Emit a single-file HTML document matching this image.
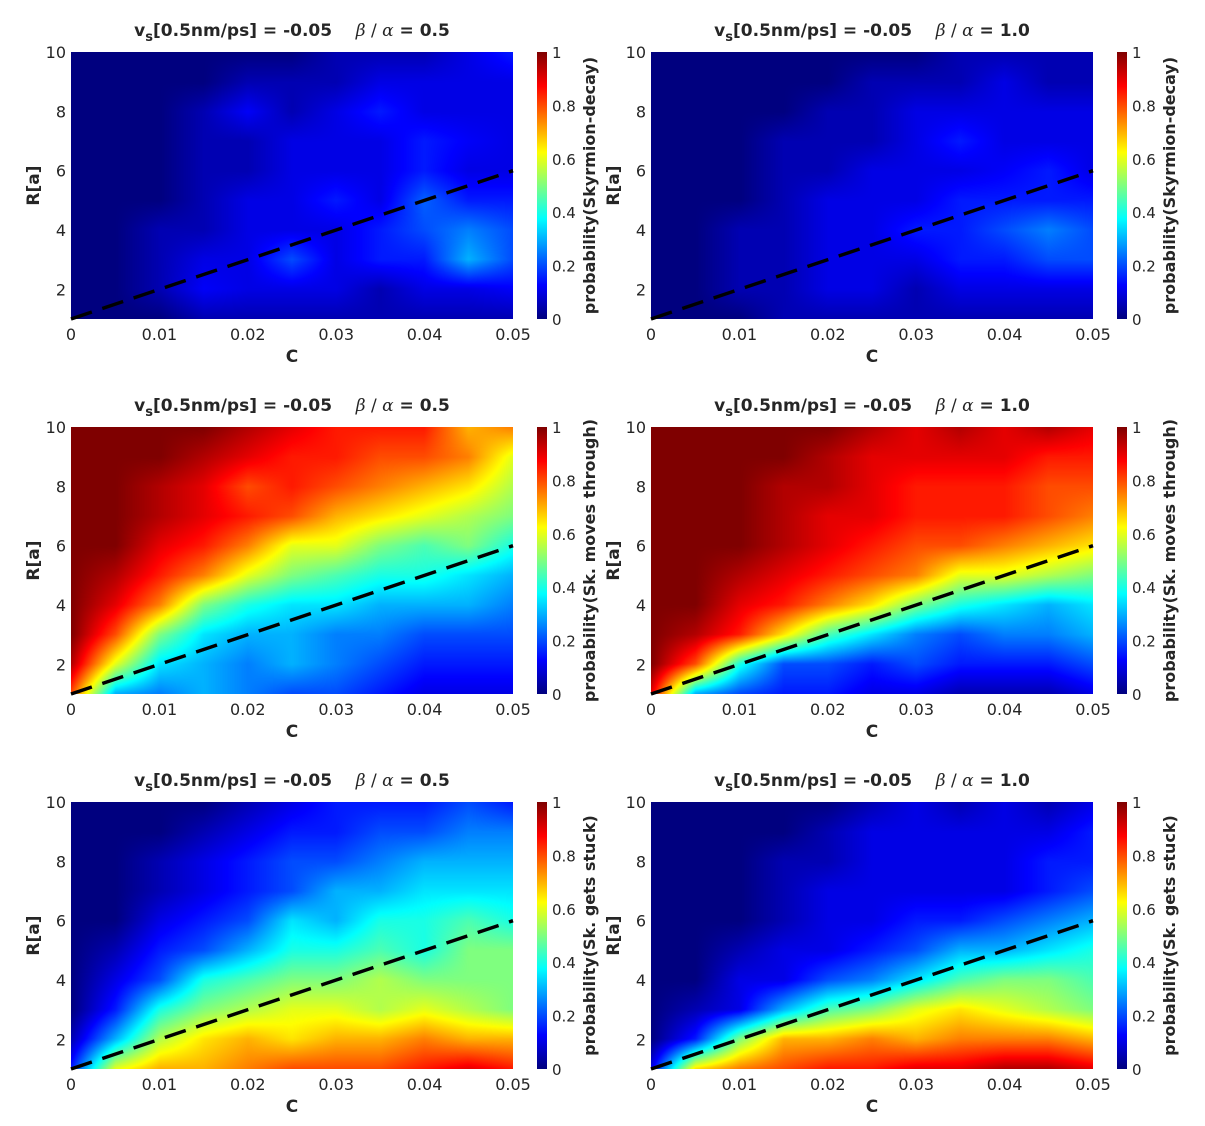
<!DOCTYPE html>
<html><head><meta charset="utf-8"><style>
body{margin:0;background:#fff;width:1205px;height:1126px;position:relative;overflow:hidden;font-family:"DejaVu Sans","Liberation Sans",sans-serif}
canvas{position:absolute}
svg{position:absolute;left:0;top:0}
</style></head><body>
<div id="root"></div>
<svg id="ov" width="1205" height="1126"></svg>
<script>
const cValues=[0,0.005,0.01,0.015,0.02,0.025,0.03,0.035,0.04,0.045,0.05];
const rValues=[10,9,8,7,6,5,4,3,2,1];
const xTicks=[0,0.01,0.02,0.03,0.04,0.05];
const xTickLabels=["0","0.01","0.02","0.03","0.04","0.05"];
const yTicks=[2,4,6,8,10];
const cbTicks=[0,0.2,0.4,0.6,0.8,1];
const cbTickLabels=["0","0.2","0.4","0.6","0.8","1"];
const lineC=[0,0.05];
const lineR=[1,6];
const decay05=[
[0,0,0,0,0,0,.05,.05,.05,.1,.15],
[0,0,0,0,.05,.05,.05,.1,.1,.1,.1],
[0,0,0,.05,.12,.05,.1,.15,.1,.1,.1],
[0,0,0,.05,.05,.1,.1,.1,.15,.12,.1],
[0,0,0,.05,.05,.1,.1,.1,.15,.1,.1],
[0,0,0,.05,.1,.1,.15,.1,.22,.15,.15],
[0,0,.05,.05,.1,.1,.1,.15,.2,.25,.2],
[0,0,.05,.1,.1,.2,.1,.15,.15,.3,.2],
[0,0,.05,.12,.1,.1,.1,.05,.1,.1,.12],
[0,0,0,.05,.05,.05,.05,.05,.05,.05,.05]];
const decay10=[
[0,0,0,0,0,0,0,.05,.05,.05,.05],
[0,0,0,0,0,.05,.05,.05,.1,.05,.05],
[0,0,0,0,.05,.05,.1,.1,.1,.1,.1],
[0,0,0,.05,.05,.05,.1,.15,.1,.1,.1],
[0,0,0,.05,.05,.1,.1,.1,.12,.15,.1],
[0,0,0,.05,.1,.1,.1,.15,.15,.15,.15],
[0,0,.05,.05,.1,.1,.15,.15,.2,.25,.2],
[0,0,.05,.05,.1,.1,.1,.15,.15,.2,.2],
[0,0,.05,.05,.1,.1,.05,.1,.1,.1,.1],
[0,0,0,.05,.05,.05,.05,.05,.05,.05,.05]];
const move05=[
[1,1,1,1,.95,.9,.85,.85,.85,.7,.75],
[1,1,1,.95,.9,.85,.85,.8,.8,.75,.6],
[1,1,.95,.9,.8,.85,.8,.75,.7,.65,.55],
[1,1,.95,.9,.85,.8,.7,.65,.6,.55,.5],
[1,1,.9,.85,.75,.6,.6,.5,.45,.5,.4],
[1,.95,.85,.75,.6,.5,.45,.4,.4,.35,.3],
[1,.9,.75,.5,.4,.35,.35,.3,.3,.3,.25],
[1,.8,.5,.35,.3,.3,.25,.25,.2,.2,.2],
[.95,.6,.35,.3,.25,.3,.25,.2,.15,.15,.15],
[.8,.3,.25,.3,.25,.2,.2,.15,.1,.1,.1]];
const move10=[
[1,1,1,1,1,.95,.9,.95,.9,.95,.9],
[1,1,1,1,.95,.9,.9,.9,.9,.85,.85],
[1,1,1,.95,.95,.9,.85,.85,.85,.8,.8],
[1,1,1,.95,.9,.9,.85,.85,.85,.8,.75],
[1,1,1,.95,.9,.85,.8,.8,.75,.7,.65],
[1,1,.95,.9,.85,.8,.75,.6,.6,.55,.5],
[1,1,.9,.85,.75,.65,.5,.4,.35,.3,.35],
[1,.95,.85,.65,.45,.35,.25,.2,.25,.25,.3],
[1,.8,.4,.2,.2,.15,.2,.15,.15,.15,.2],
[.9,.3,.2,.15,.15,.1,.1,.05,.05,.05,.1]];
const stuck05=[
[0,0,0,0,.05,.1,.15,.15,.15,.2,.15],
[0,0,0,.05,.1,.15,.15,.2,.2,.25,.25],
[0,0,.05,.1,.15,.2,.2,.25,.3,.3,.3],
[0,0,.05,.1,.15,.2,.3,.3,.35,.35,.35],
[0,0,.1,.15,.2,.35,.3,.4,.4,.45,.4],
[0,.05,.15,.2,.3,.4,.4,.45,.4,.5,.5],
[0,.1,.2,.4,.45,.5,.5,.55,.5,.5,.5],
[0,.15,.4,.5,.55,.6,.6,.55,.6,.55,.5],
[.05,.3,.55,.65,.7,.65,.7,.7,.75,.7,.7],
[.15,.6,.7,.7,.75,.8,.8,.8,.85,.9,.85]];
const stuck10=[
[0,0,0,0,0,.05,.1,.05,.1,.05,.1],
[0,0,0,0,.05,.1,.1,.1,.1,.1,.15],
[0,0,0,.05,.05,.1,.1,.1,.1,.15,.15],
[0,0,0,.05,.1,.1,.1,.1,.1,.15,.2],
[0,0,0,.05,.1,.1,.15,.15,.2,.25,.3],
[0,0,.05,.1,.1,.15,.2,.3,.3,.35,.4],
[0,0,.1,.1,.2,.25,.35,.45,.5,.5,.45],
[0,.05,.1,.3,.45,.5,.6,.65,.6,.55,.5],
[0,.15,.5,.7,.7,.75,.7,.75,.75,.75,.7],
[.1,.65,.75,.8,.85,.85,.9,.9,.95,.95,.9]];

const panels=[
 {d:decay05,x:71,y:52,ratio:"0.5",cb:"probability(Skyrmion-decay)",n:"decay-0-5"},
 {d:decay10,x:651,y:52,ratio:"1.0",cb:"probability(Skyrmion-decay)",n:"decay-1-0"},
 {d:move05,x:71,y:427,ratio:"0.5",cb:"probability(Sk. moves through)",n:"moves-0-5"},
 {d:move10,x:651,y:427,ratio:"1.0",cb:"probability(Sk. moves through)",n:"moves-1-0"},
 {d:stuck05,x:71,y:802,ratio:"0.5",cb:"probability(Sk. gets stuck)",n:"stuck-0-5"},
 {d:stuck10,x:651,y:802,ratio:"1.0",cb:"probability(Sk. gets stuck)",n:"stuck-1-0"}];
const W=442,H=267;
function jet(v){v=Math.max(0,Math.min(1,v));
 const f=t=>Math.max(0,Math.min(1,t));
 const r=f(1.5-Math.abs(4*v-3)),g=f(1.5-Math.abs(4*v-2)),b=f(1.5-Math.abs(4*v-1));
 return [r*255|0,g*255|0,b*255|0];}
const NS="http://www.w3.org/2000/svg";
const ov=document.getElementById('ov');
function T(x,y,txt,opt){const t=document.createElementNS(NS,'text');t.setAttribute('x',x);t.setAttribute('y',y);
 t.setAttribute('font-size',opt.fs||15);t.setAttribute('fill','#262626');
 if(opt.bold)t.setAttribute('font-weight','bold');if(opt.anchor)t.setAttribute('text-anchor',opt.anchor);
 if(opt.rot)t.setAttribute('transform','rotate(-90 '+x+' '+y+')');t.innerHTML=txt;ov.appendChild(t);return t;}
panels.forEach(p=>{
 const xs=c=>p.x+(c-0)/0.05*W, ys=r=>p.y+(10-r)/9*H;
 const cv=document.createElement('canvas');cv.width=W;cv.height=H;cv.style.left=p.x+'px';cv.style.top=p.y+'px';
 
 
 document.body.insertBefore(cv,ov);
 const ctx=cv.getContext('2d'),im=ctx.createImageData(W,H);
 const nc=cValues.length-1,nr=rValues.length-1;
 for(let j=0;j<H;j++){const fy=j/(H-1)*nr;const r0=Math.min(nr-1,Math.floor(fy)),ty=fy-r0;
  for(let i=0;i<W;i++){const fx=i/(W-1)*nc;const c0=Math.min(nc-1,Math.floor(fx)),tx=fx-c0;
   const v=(p.d[r0][c0]*(1-tx)+p.d[r0][c0+1]*tx)*(1-ty)+(p.d[r0+1][c0]*(1-tx)+p.d[r0+1][c0+1]*tx)*ty;
   const c=jet(v),k=(j*W+i)*4;im.data[k]=c[0];im.data[k+1]=c[1];im.data[k+2]=c[2];im.data[k+3]=255;}}
 ctx.putImageData(im,0,0);
 const cb=document.createElement('canvas');cb.width=10;cb.height=H;cb.style.left=(p.x+466)+'px';cb.style.top=p.y+'px';
 
 
 document.body.insertBefore(cb,ov);
 const cx=cb.getContext('2d');for(let j=0;j<H;j++){const c=jet(1-j/(H-1));cx.fillStyle=`rgb(${c})`;cx.fillRect(0,j,10,1);}
 cbTicks.forEach((v,k)=>{T(p.x+481,p.y+H-v*H+6,cbTickLabels[k],{fs:15});});
 T(p.x+524,p.y+H/2,p.cb,{bold:1,rot:1,anchor:'middle',fs:16});
 const l=document.createElementNS(NS,'line');l.setAttribute('x1',xs(lineC[0]));l.setAttribute('y1',ys(lineR[0]));
 l.setAttribute('x2',xs(lineC[1]));l.setAttribute('y2',ys(lineR[1]));l.setAttribute('stroke','#000');l.setAttribute('stroke-width',3.5);l.setAttribute('stroke-dasharray','22,11');
 
 
 ov.appendChild(l);
 xTicks.forEach((v,k)=>T(xs(v),p.y+H+21,xTickLabels[k],{anchor:'middle',fs:16}));
 yTicks.forEach(v=>T(p.x-5,ys(v)+6,String(v),{anchor:'end',fs:16}));
 T(p.x+W/2,p.y+H+43,'C',{bold:1,anchor:'middle',fs:17});
 T(p.x-32,p.y+H/2,'R[a]',{bold:1,rot:1,anchor:'middle',fs:17});
 const t=T(p.x+W/2,p.y-16,'v<tspan dy="5" font-size="13">s</tspan><tspan dy="-5">[0.5nm/ps] = -0.05 &#160;&#160; </tspan><tspan font-weight="normal" font-style="italic" font-family="DejaVu Serif">β</tspan><tspan font-weight="normal"> / </tspan><tspan font-weight="normal" font-style="italic" font-family="DejaVu Serif">α</tspan><tspan> = '+p.ratio+'</tspan>',{bold:1,anchor:'middle',fs:17});
 
 
});
</script>
</body></html>
